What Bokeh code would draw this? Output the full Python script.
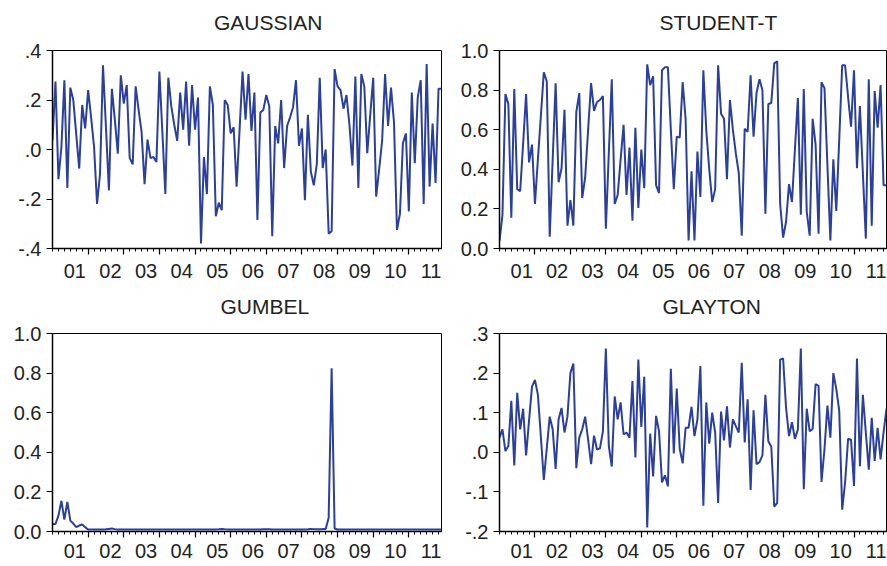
from bokeh.plotting import figure
from bokeh.models import (Range1d, FixedTicker, LinearAxis, Title,
                          CustomLabelingPolicy)
from bokeh.layouts import gridplot
from bokeh.embed import file_html
from bokeh.resources import INLINE

# monthly observations 2001M01 .. 2011M12
months = list(range(132))
year_labels = ["01", "02", "03", "04", "05", "06", "07", "08", "09", "10", "11"]

gaussian = [
    0.037, 0.275, -0.12, 0.01, 0.28, -0.155, 0.25, 0.2, 0.06, -0.077, 0.18, 0.085,
    0.24, 0.13, 0.01, -0.22, -0.1, 0.34, 0.09, -0.165, 0.245, 0.12, -0.017, 0.3,
    0.185, 0.26, -0.035, -0.06, 0.255, 0.16, 0.07, -0.14, 0.04, -0.035, -0.03, -0.05,
    0.315, 0.07, -0.18, 0.29, 0.175, 0.1, 0.035, 0.23, 0.08, 0.275, 0.015, 0.26,
    0.08, 0.21, -0.38, -0.03, -0.18, 0.255, 0.18, -0.27, -0.215, -0.245, 0.2, 0.18,
    0.065, 0.09, -0.15, 0.08, 0.315, 0.12, 0.305, 0.075, 0.23, -0.285, 0.15, 0.16,
    0.22, 0.175, -0.35, 0.095, 0.025, 0.2, -0.075, 0.095, 0.13, 0.17, 0.28, 0.015,
    0.085, -0.205, 0.14, -0.09, -0.145, -0.06, 0.29, -0.075, 0.0, -0.34, -0.33, 0.325,
    0.255, 0.24, 0.165, 0.22, 0.1, -0.065, 0.295, -0.155, 0.305, 0.255, -0.015, 0.14,
    0.29, -0.19, -0.08, 0.035, 0.305, 0.095, 0.25, 0.11, -0.325, -0.26, 0.025, 0.065,
    -0.25, 0.23, -0.055, 0.21, 0.28, -0.22, 0.345, -0.15, 0.105, -0.135, 0.245, 0.245,
]

student_t = [
    0.04, 0.17, 0.78, 0.73, 0.155, 0.805, 0.3, 0.29, 0.53, 0.78, 0.435, 0.525,
    0.225, 0.45, 0.67, 0.89, 0.845, 0.06, 0.45, 0.835, 0.335, 0.405, 0.7, 0.115,
    0.245, 0.115, 0.69, 0.785, 0.255, 0.36, 0.6, 0.835, 0.695, 0.74, 0.75, 0.77,
    0.1, 0.48, 0.855, 0.225, 0.27, 0.45, 0.625, 0.27, 0.51, 0.14, 0.61, 0.205,
    0.5, 0.305, 0.93, 0.825, 0.87, 0.32, 0.28, 0.9, 0.915, 0.915, 0.6, 0.3,
    0.565, 0.56, 0.84, 0.655, 0.04, 0.39, 0.04, 0.49, 0.26, 0.9, 0.595, 0.4,
    0.235, 0.3, 0.925, 0.68, 0.655, 0.35, 0.75, 0.6, 0.48, 0.38, 0.065, 0.605,
    0.59, 0.875, 0.565, 0.785, 0.855, 0.8, 0.175, 0.73, 0.735, 0.935, 0.945, 0.225,
    0.055, 0.135, 0.325, 0.235, 0.5, 0.76, 0.17, 0.805, 0.185, 0.065, 0.655, 0.525,
    0.075, 0.84, 0.81, 0.42, 0.04, 0.45, 0.19, 0.55, 0.925, 0.925, 0.765, 0.615,
    0.9, 0.405, 0.72, 0.38, 0.05, 0.855, 0.115, 0.795, 0.61, 0.825, 0.32, 0.32,
]

gumbel = [
    0.038, 0.038, 0.08, 0.155, 0.06, 0.15, 0.055, 0.04, 0.022, 0.03, 0.035, 0.022,
    0.01, 0.01, 0.01, 0.01, 0.01, 0.01, 0.011, 0.013, 0.015, 0.012, 0.01, 0.01,
    0.01, 0.01, 0.01, 0.01, 0.01, 0.01, 0.01, 0.01, 0.01, 0.01, 0.01, 0.01,
    0.01, 0.01, 0.01, 0.01, 0.01, 0.01, 0.01, 0.01, 0.01, 0.01, 0.01, 0.01,
    0.01, 0.01, 0.01, 0.01, 0.01, 0.01, 0.01, 0.01, 0.011, 0.013, 0.011, 0.01,
    0.01, 0.01, 0.01, 0.01, 0.01, 0.01, 0.01, 0.01, 0.01, 0.01, 0.01, 0.011,
    0.012, 0.011, 0.01, 0.01, 0.01, 0.01, 0.01, 0.01, 0.01, 0.01, 0.01, 0.01,
    0.01, 0.01, 0.011, 0.013, 0.012, 0.011, 0.011, 0.012, 0.012, 0.07, 0.825, 0.015,
    0.01, 0.01, 0.01, 0.01, 0.01, 0.01, 0.01, 0.01, 0.01, 0.01, 0.01, 0.01,
    0.01, 0.01, 0.01, 0.01, 0.01, 0.01, 0.01, 0.01, 0.01, 0.01, 0.01, 0.01,
    0.01, 0.01, 0.01, 0.01, 0.01, 0.01, 0.01, 0.01, 0.01, 0.01, 0.01, 0.01,
]

glayton = [
    0.037, 0.058, 0.003, 0.016, 0.13, -0.033, 0.15, 0.058, 0.11, -0.008, 0.08, 0.166,
    0.183, 0.145, 0.04, -0.07, 0.01, 0.09, 0.058, -0.042, 0.083, 0.112, 0.05, 0.09,
    0.2, 0.224, -0.04, 0.037, 0.058, 0.09, 0.032, -0.03, 0.042, 0.007, 0.01, 0.053,
    0.262, 0.016, -0.036, 0.141, 0.083, 0.126, 0.045, 0.05, 0.037, 0.18, -0.013, 0.234,
    0.064, 0.191, -0.19, 0.047, -0.061, 0.092, 0.053, -0.076, -0.058, -0.086, 0.211, -0.003,
    0.161, 0.009, -0.028, 0.062, 0.062, 0.115, 0.041, 0.083, 0.218, -0.135, 0.126, 0.022,
    0.1, 0.05, -0.128, 0.103, 0.03, 0.116, 0.012, 0.083, 0.066, 0.05, 0.226, 0.025,
    0.134, -0.095, 0.106, -0.03, -0.025, -0.008, 0.145, 0.028, 0.014, -0.137, -0.128, 0.234,
    0.237, 0.112, 0.041, 0.076, 0.034, 0.058, 0.262, -0.093, 0.11, 0.053, 0.059, 0.172,
    0.168, -0.075, 0.007, 0.118, 0.037, 0.2, 0.16, 0.105, -0.145, -0.075, 0.034, 0.032,
    -0.085, 0.237, -0.035, 0.145, 0.05, -0.044, 0.087, -0.022, 0.062, -0.018, 0.05, 0.11,
]

gauss_ticks = [-0.4, -0.2, 0.0, 0.2, 0.4]
gauss_tick_labels = ["-.4", "-.2", ".0", ".2", ".4"]
unit_ticks = [0.0, 0.2, 0.4, 0.6, 0.8, 1.0]
unit_tick_labels = ["0.0", "0.2", "0.4", "0.6", "0.8", "1.0"]
glay_ticks = [-0.2, -0.1, 0.0, 0.1, 0.2, 0.3]
glay_tick_labels = ["-.2", "-.1", ".0", ".1", ".2", ".3"]

FONT = "Liberation Sans"
LINE_COLOR = "#2b3f9e"
TEXT_COLOR = "#222222"
TICK_SIZE = "20px"
TITLE_SIZE = "21px"


def no_labels():
    return CustomLabelingPolicy(code="""
const all = Array.from(indices)
for (const i of all) indices.unset(i)
return indices
""")


def silence(axis):
    # axis used only for its marks: no label texts, no space for them
    axis.major_label_policy = no_labels()
    axis.major_label_text_color = None
    axis.major_label_text_font_size = "1px"
    axis.major_label_standoff = 0


def make_panel(title, series, yrange, yticks, ylabels, width, height,
               bl, br, bt, bb, title_offset, title_gap, label_gap):
    n = len(series)
    p = figure(width=width, height=height, output_backend="svg",
               toolbar_location=None,
               x_range=Range1d(0, n - 1),
               y_range=Range1d(*yrange),
               min_border_left=bl, min_border_right=br,
               min_border_top=bt, min_border_bottom=bb,
               background_fill_color="white", border_fill_color="white")
    p.xgrid.visible = False
    p.ygrid.visible = False
    p.outline_line_color = "black"
    p.outline_line_width = 1

    p.line(months[:n], series, line_color=LINE_COLOR, line_width=2)

    # x axis: year boundaries (major) and bi-monthly minor ticks, no texts
    xa = p.xaxis[0]
    xa.ticker = FixedTicker(ticks=[12 * k for k in range(1, 11)],
                            minor_ticks=list(range(0, 132, 2)))
    silence(xa)
    xa.major_tick_out = 6
    xa.major_tick_in = 0
    xa.minor_tick_out = 3
    xa.minor_tick_in = 0
    xa.axis_line_width = 1.5
    xa.major_tick_line_width = 1.2
    xa.minor_tick_line_width = 1

    # year labels, placed inside each year span (second axis, no marks)
    centres = [12 * k + 7.5 for k in range(len(year_labels))]
    la = LinearAxis(ticker=FixedTicker(ticks=centres, minor_ticks=[]),
                    major_label_overrides={c: lab for c, lab in zip(centres, year_labels)},
                    major_tick_out=0, major_tick_in=0,
                    minor_tick_out=0, minor_tick_in=0,
                    axis_line_color=None,
                    major_tick_line_color=None, minor_tick_line_color=None,
                    major_label_standoff=label_gap,
                    major_label_text_font=FONT,
                    major_label_text_font_size=TICK_SIZE,
                    major_label_text_color=TEXT_COLOR)
    p.add_layout(la, "below")

    ya = p.yaxis[0]
    ya.ticker = FixedTicker(ticks=yticks, minor_ticks=[])
    ya.major_label_overrides = {t: l for t, l in zip(yticks, ylabels)}
    ya.major_tick_out = 6
    ya.major_tick_in = 0
    ya.minor_tick_out = 0
    ya.minor_tick_in = 0
    ya.axis_line_width = 1.5
    ya.major_tick_line_width = 1.2
    ya.major_label_standoff = 5
    ya.major_label_text_font = FONT
    ya.major_label_text_font_size = TICK_SIZE
    ya.major_label_text_color = TEXT_COLOR

    # invisible spacer between frame and title
    sp = LinearAxis(ticker=FixedTicker(ticks=[0], minor_ticks=[]),
                    major_tick_out=title_gap, major_tick_in=0,
                    minor_tick_out=0, minor_tick_in=0,
                    axis_line_color=None,
                    major_tick_line_color=None, minor_tick_line_color=None)
    silence(sp)
    p.add_layout(sp, "above")

    p.add_layout(Title(text=title, align="left", offset=title_offset,
                       vertical_align="bottom", standoff=4,
                       text_font=FONT, text_font_size=TITLE_SIZE,
                       text_font_style="normal", text_color=TEXT_COLOR), "above")
    return p


p1 = make_panel("GAUSSIAN", gaussian, (-0.4, 0.4), gauss_ticks, gauss_tick_labels,
                446, 287, 52, 5, 50, 39, 161.5, 15, 9)
p2 = make_panel("STUDENT-T", student_t, (0.0, 1.0), unit_ticks, unit_tick_labels,
                441, 287, 53, 1, 50, 39, 160, 15, 9)
p3 = make_panel("GUMBEL", gumbel, (0.0, 1.0), unit_ticks, unit_tick_labels,
                446, 279, 52, 5, 46, 35, 168, 14, 6)
p4 = make_panel("GLAYTON", glayton, (-0.2, 0.3), glay_ticks, glay_tick_labels,
                441, 279, 53, 1, 46, 35, 163, 14, 6)

grid = gridplot([[p1, p2], [p3, p4]], toolbar_location=None)

open("out.html", "w").write(file_html(grid, INLINE))
